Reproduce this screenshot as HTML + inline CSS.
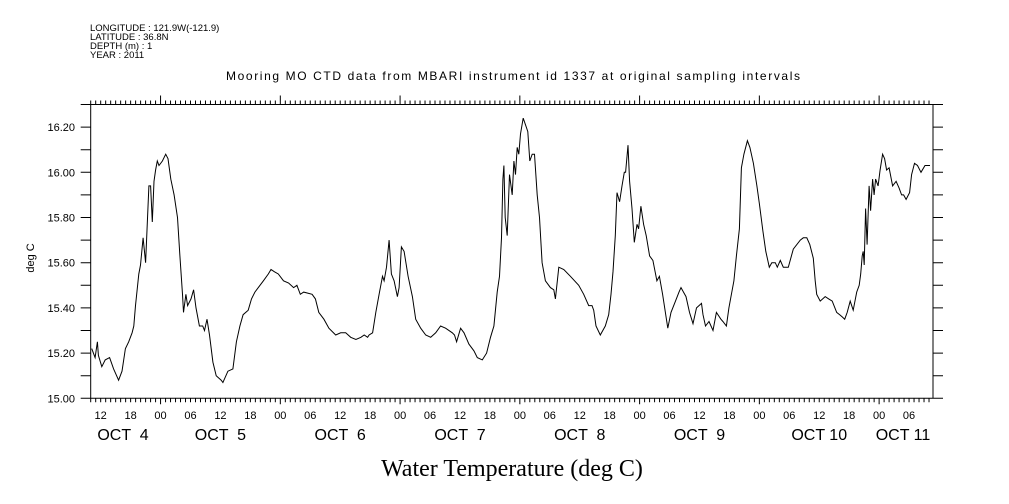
<!DOCTYPE html>
<html><head><meta charset="utf-8"><style>
body{margin:0;background:#fff;}
svg{display:block;font-family:"Liberation Sans",sans-serif;}
</style></head><body>
<svg id="chart" width="1009" height="504" viewBox="0 0 1009 504">
<g font-size="9.5" fill="#000">
<text x="90" y="31">LONGITUDE : 121.9W(-121.9)</text>
<text x="90" y="40">LATITUDE : 36.8N</text>
<text x="90" y="49">DEPTH (m) : 1</text>
<text x="90" y="58">YEAR : 2011</text>
</g>
<text x="513" y="80" text-anchor="middle" font-size="12" textLength="574">Mooring MO CTD data from MBARI instrument id 1337 at original sampling intervals</text>
<text transform="translate(34,258) rotate(-90)" text-anchor="middle" font-size="11">deg C</text>
<text x="512" y="476" text-anchor="middle" font-size="24" font-family="Liberation Serif, serif">Water Temperature (deg C)</text>
<g id="axes"></g>
<path id="line" fill="none" stroke="#000" stroke-width="1"></path>
</svg>
<script>
const hours=[0.2,0.88,1.35,1.55,2.23,2.9,3.78,4.59,5.6,6.27,6.95,7.62,8.29,8.63,8.97,9.64,9.98,10.5,11.0,11.67,12.0,12.34,12.68,13.0,13.35,13.69,14.36,15.04,15.5,16.05,16.72,17.4,17.87,18.4,18.6,19.08,19.42,20.1,20.63,21.1,21.78,22.45,22.8,23.3,23.8,24.48,25.15,26.16,26.5,27.5,28.5,29.2,29.9,30.55,31.56,32.23,32.9,33.58,34.6,35.6,36.14,36.8,37.6,38.64,39.65,40.66,41.33,42.0,42.68,44.37,45.04,45.72,46.73,47.74,49.1,50.1,51.1,52.1,53.15,54.15,54.8,55.5,55.8,56.5,57.13,57.8,58.47,58.8,59.27,59.8,60.27,60.8,61.47,61.8,62.27,62.8,63.6,64.47,65.13,66.13,67.13,68.13,69.13,70.13,71.13,72.47,72.9,73.33,74.13,74.8,75.8,76.8,77.47,78.47,79.33,80.13,80.8,81.47,81.93,82.33,82.6,82.8,83.07,83.47,83.93,84.47,84.8,85.13,85.47,85.8,86.13,86.67,87.13,87.6,88.0,88.47,88.93,89.47,89.93,90.47,91.13,92.13,92.8,93.13,93.8,94.8,96.13,97.8,98.8,99.8,100.47,100.8,101.27,102.13,103.13,103.8,104.27,104.67,105.13,105.47,106.0,106.47,106.93,107.2,107.47,107.67,108.0,108.47,108.93,109.47,109.8,110.27,110.8,111.33,112.0,112.67,113.47,113.97,114.6,115.65,116.3,117.2,117.9,118.3,118.8,119.3,120.0,120.7,121.4,121.9,122.4,122.7,123.2,123.9,124.7,125.4,126.3,126.7,127.4,127.9,128.4,128.9,129.4,130.0,130.4,130.9,131.6,132.1,132.8,133.5,134.0,134.7,135.3,136.0,136.5,137.2,137.6,138.2,138.8,139.8,140.8,142.2,142.8,143.5,144.1,144.8,145.2,145.5,146.2,147.2,147.9,148.6,149.5,150.1,150.6,151.1,151.6,152.2,152.8,153.5,154.0,154.3,154.6,154.8,155.0,155.3,155.6,156.0,156.3,156.7,157.0,157.3,157.8,158.2,158.7,159.1,159.5,160.0,160.7,161.4,162.0,162.5,162.9,163.4,164.1,164.5,165.1,165.7,166.4,167.2,167.6,168.2];
const temps=[15.22,15.18,15.25,15.19,15.14,15.17,15.18,15.13,15.08,15.12,15.22,15.25,15.29,15.32,15.41,15.55,15.59,15.71,15.60,15.94,15.94,15.78,15.96,16.01,16.05,16.03,16.05,16.08,16.06,15.97,15.90,15.80,15.63,15.46,15.38,15.46,15.41,15.44,15.48,15.40,15.32,15.32,15.30,15.35,15.28,15.16,15.10,15.08,15.07,15.12,15.13,15.25,15.32,15.37,15.39,15.44,15.47,15.49,15.52,15.55,15.57,15.56,15.55,15.52,15.51,15.49,15.50,15.46,15.47,15.46,15.44,15.38,15.35,15.31,15.28,15.29,15.29,15.27,15.26,15.27,15.28,15.27,15.28,15.29,15.38,15.46,15.54,15.52,15.58,15.70,15.55,15.52,15.45,15.49,15.67,15.65,15.54,15.45,15.35,15.31,15.28,15.27,15.29,15.32,15.31,15.29,15.28,15.25,15.31,15.29,15.24,15.21,15.18,15.17,15.20,15.27,15.32,15.47,15.54,15.71,15.97,16.03,15.80,15.72,15.99,15.90,16.05,15.99,16.11,16.08,16.17,16.24,16.21,16.18,16.05,16.08,16.08,15.90,15.80,15.60,15.52,15.49,15.48,15.44,15.58,15.57,15.54,15.50,15.46,15.41,15.41,15.39,15.32,15.28,15.32,15.37,15.46,15.56,15.72,15.91,15.87,15.94,16.00,16.00,16.07,16.12,15.96,15.84,15.69,15.77,15.75,15.85,15.77,15.72,15.63,15.61,15.52,15.54,15.46,15.31,15.38,15.43,15.47,15.49,15.47,15.45,15.38,15.33,15.40,15.41,15.42,15.37,15.32,15.34,15.30,15.38,15.35,15.34,15.32,15.40,15.46,15.52,15.63,15.75,16.02,16.08,16.14,16.11,16.04,15.94,15.86,15.74,15.65,15.58,15.60,15.60,15.58,15.61,15.58,15.58,15.66,15.70,15.71,15.71,15.68,15.62,15.52,15.46,15.43,15.45,15.44,15.43,15.38,15.37,15.36,15.35,15.38,15.43,15.39,15.47,15.50,15.55,15.63,15.65,15.59,15.84,15.68,15.94,15.83,15.97,15.90,15.97,15.94,16.01,16.08,16.06,16.01,16.02,15.94,15.96,15.93,15.90,15.90,15.88,15.91,15.99,16.04,16.03,16.00,16.03,16.03,16.03,16.07,16.11];
const yTickLabels=["15.00","15.20","15.40","15.60","15.80","16.00","16.20"];
const hourLabels=["12","18","00","06","12","18","00","06","12","18","00","06","12","18","00","06","12","18","00","06","12","18","00","06","12","18","00","06"];
const dateLabels=["OCT  4","OCT  5","OCT  6","OCT  7","OCT  8","OCT  9","OCT 10","OCT 11"];

const X0=90.7,X1=933,PXH=4.99,Y0=398.3,YMIN=15.0,YMAX=16.3,PXU=226;
const x=h=>X0+h*PXH;
const y=v=>Y0-(v-YMIN)*PXU;
const NS="http://www.w3.org/2000/svg";
const axes=document.getElementById('axes');
function mk(tag,attrs,parent){const e=document.createElementNS(NS,tag);for(const k in attrs)e.setAttribute(k,attrs[k]);(parent||axes).appendChild(e);return e;}
let d=`M${X0},${y(YMAX)}H${X1}V${Y0}H${X0}Z`;
for(let h=0;h<=168.8;h++){
  const hr=(10+h)%24, xx=x(h);
  const big=hr===0;
  const lenB=big?6:4, lenT=big?9:4;
  d+=`M${xx},${Y0}v${lenB}M${xx},${y(YMAX)}v${-lenT}`;
}
for(let i=0;i<=13;i++){
  const yy=y(YMIN+i*0.1);
  d+=`M${X0},${yy}h${-10}M${X1},${yy}h10`;
}
const fr=mk('path',{d:d,fill:'none',stroke:'#000','stroke-width':1});


yTickLabels.forEach(t=>{
  const e=mk('text',{x:75,y:y(parseFloat(t))+4,'text-anchor':'end','font-size':11});
  e.textContent=t;
  
  
});
hourLabels.forEach((t,i)=>{
  const h=2+i*6;
  const e=mk('text',{x:x(h),y:419,'text-anchor':'middle','font-size':11});
  e.textContent=t;
  
  
});
dateLabels.forEach((t,i)=>{
  let cx=x(2+i*24);
  cx=Math.max(123,Math.min(903,cx));
  const e=mk('text',{x:cx,y:440,'text-anchor':'middle','font-size':16});
  e.style.whiteSpace='pre';
  e.textContent=t;
  
  
});
document.getElementById('line').setAttribute('d',hours.map((h,i)=>(i?'L':'M')+x(h).toFixed(1)+','+y(temps[i]).toFixed(1)).join(''));
</script>
</body></html>
